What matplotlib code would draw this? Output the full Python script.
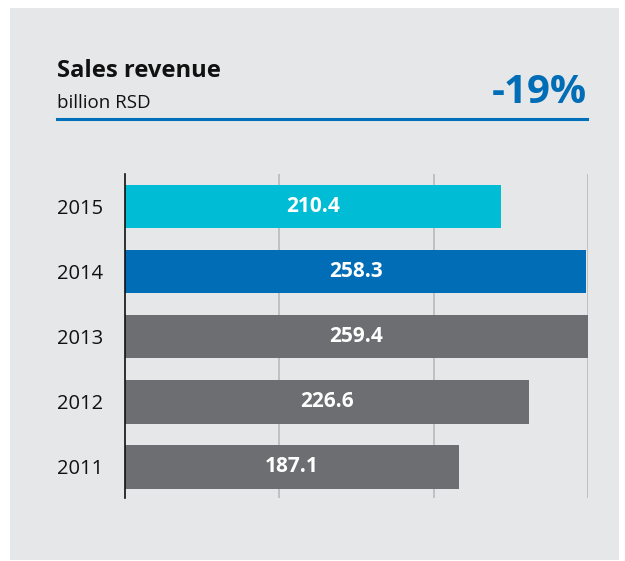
import numpy as np
import matplotlib
matplotlib.use('Agg')
import matplotlib.pyplot as plt
from matplotlib.patches import Rectangle
from matplotlib.lines import Line2D

plt.rcParams['font.family'] = ['Open Sans', 'DejaVu Sans']

# sales revenue, billion RSD
years = ['2011', '2012', '2013', '2014', '2015']
revenue = [187.1, 226.6, 259.4, 258.3, 210.4]
bar_colors = ['#6d6e71', '#6d6e71', '#6d6e71', '#006db6', '#00bcd4']
change_label = '-19%'

fig = plt.figure(figsize=(6.25, 5.61), dpi=100)
fig.patch.set_facecolor('white')

# grey card behind everything
fig.patches.append(Rectangle((10/625, 1-560/561), 609/625, 552/561,
                             transform=fig.transFigure, facecolor='#e6e7e8',
                             edgecolor='none', zorder=-10))

fig.text(57/625, 1-77/561, 'Sales revenue', fontsize=17.1, fontweight='bold',
         color='#111111', ha='left', va='baseline')
fig.text(57/625, 1-108/561, 'billion RSD', fontsize=13.5, color='#111111',
         ha='left', va='baseline')
fig.text(587/625, 1-103/561, change_label, fontsize=29, fontweight='bold',
         color='#006db6', ha='right', va='baseline')
fig.lines.append(Line2D([57/625, 587/625], [1-119/561, 1-119/561],
                        transform=fig.transFigure, color='#0070bb', lw=2.2))

ax = fig.add_axes([125/625, 1-498/561, 463/625, 324/561])
ax.set_facecolor('none')

ypos = np.arange(len(years))
ax.barh(ypos, revenue, height=0.67, color=bar_colors, zorder=2)
for y, v in zip(ypos, revenue):
    ax.text(v/2, y, f'{v:.1f}', ha='center', va='center', color='white',
            fontsize=15, fontweight='bold', zorder=3)

xmax = max(revenue)
ax.set_xlim(0, xmax)
ax.set_ylim(-0.48, 4.5)
for gx in [xmax/3, 2*xmax/3, xmax]:
    ax.axvline(gx, color='#bcbdc0', lw=1.3, zorder=1)

ax.set_yticks(ypos)
ax.set_yticklabels(years, fontsize=14.5, color='#111111')
ax.tick_params(axis='y', length=0, pad=16)
ax.set_xticks([])
for s in ['top', 'right', 'bottom']:
    ax.spines[s].set_visible(False)
ax.spines['left'].set_color('#111111')
ax.spines['left'].set_linewidth(1.2)

fig.savefig('out.png', dpi=100, facecolor=fig.get_facecolor())
